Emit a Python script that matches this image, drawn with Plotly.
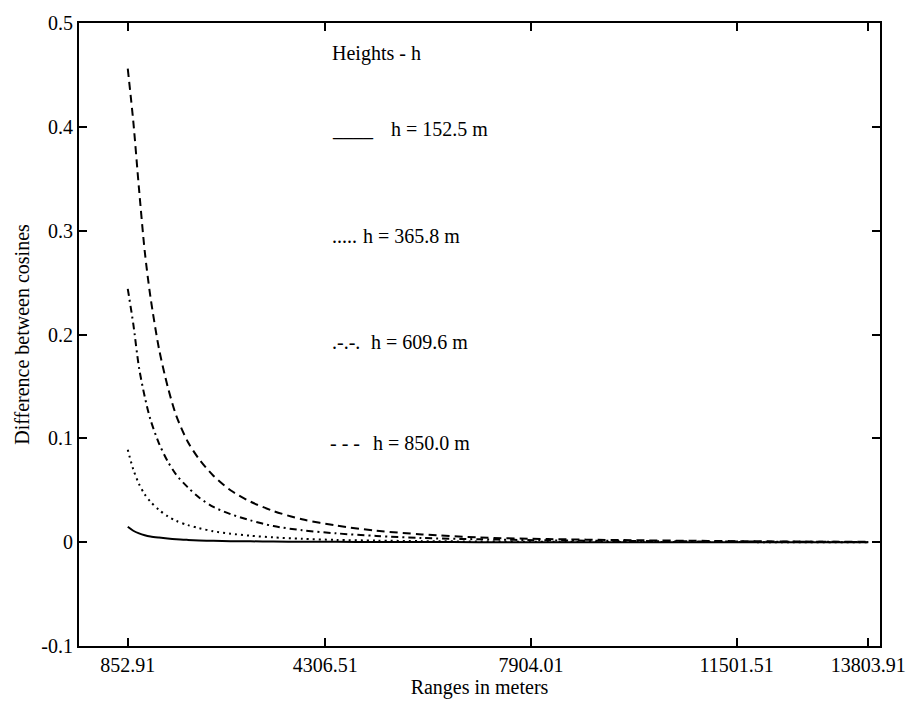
import plotly.graph_objects as go

# Range samples (m) and difference between cosines for each height
ranges = [852.91, 950, 1050, 1150, 1250, 1400, 1550, 1700, 1900, 2100, 2350, 2650,
          3000, 3400, 3900, 4500, 5200, 6000, 7000, 8200, 9500, 11000, 12500, 13803.91]

diff_h152 = [0.0148, 0.0110, 0.0085, 0.0067, 0.0055, 0.0044, 0.0035, 0.0028, 0.0022,
             0.0017, 0.0013, 0.0010, 0.0008, 0.0006, 0.0004, 0.0003, 0.0002, 0.0001,
             0.0, 0.0, 0.0, 0.0, 0.0, 0.0]
diff_h366 = [0.089, 0.070, 0.056, 0.046, 0.039, 0.031, 0.025, 0.0205, 0.0165,
             0.0135, 0.0105, 0.0082, 0.0062, 0.0046, 0.0032, 0.0022, 0.0015, 0.0010,
             0.0006, 0.0004, 0.0002, 0.0001, 0.0, 0.0]
diff_h610 = [0.244, 0.210, 0.168, 0.140, 0.118, 0.095, 0.078, 0.065, 0.053,
             0.043, 0.034, 0.027, 0.021, 0.0155, 0.0115, 0.0085, 0.0060, 0.0040,
             0.0028, 0.0018, 0.0012, 0.0007, 0.0004, 0.0002]
diff_h850 = [0.456, 0.405, 0.340, 0.280, 0.236, 0.186, 0.150, 0.122, 0.097,
             0.080, 0.064, 0.050, 0.039, 0.030, 0.022, 0.016, 0.011, 0.0075,
             0.0045, 0.0030, 0.0020, 0.0012, 0.0006, 0.0003]

x_ticks = [852.91, 4306.51, 7904.01, 11501.51, 13803.91]
x_tick_text = ["852.91", "4306.51", "7904.01", "11501.51", "13803.91"]
y_ticks = [-0.1, 0, 0.1, 0.2, 0.3, 0.4, 0.5]
y_tick_text = ["-0.1", "0", "0.1", "0.2", "0.3", "0.4", "0.5"]

series = [
    (diff_h152, "solid"),
    (diff_h366, "2px,4px"),
    (diff_h610, "7px,4px,2px,4px"),
    (diff_h850, "8px,5px"),
]

FONT = "Liberation Serif, Times New Roman, serif"
FS = 20

fig = go.Figure()
for ys, dash in series:
    fig.add_trace(go.Scatter(x=ranges, y=ys, mode="lines",
                             line=dict(color="black", width=2, dash=dash,
                                       shape="spline", smoothing=0.8),
                             showlegend=False))

# Key drawn as text inside the axes: (sample, sample x, label, label x, y)
legend_title = ("Heights - h", 4396, 0.471)
legend_items = [
    ("____", 4396, "h = 152.5 m", 5425, 0.398),
    (".....", 4396, "h = 365.8 m", 4936, 0.295),
    (".-.-.", 4396, "h = 609.6 m", 5076, 0.193),
    ("- - -", 4360, "h = 850.0 m", 5111, 0.0956),
]

fig.add_annotation(x=legend_title[1], y=legend_title[2], xref="x", yref="y",
                   text=legend_title[0], showarrow=False, xanchor="left", yanchor="middle",
                   font=dict(family=FONT, size=FS, color="black"))
for sample, sx, label, lx, yv in legend_items:
    fig.add_annotation(x=sx, y=yv, xref="x", yref="y", text=sample, showarrow=False,
                       xanchor="left", yanchor="middle",
                       font=dict(family=FONT, size=FS, color="black"))
    fig.add_annotation(x=lx, y=yv, xref="x", yref="y", text=label, showarrow=False,
                       xanchor="left", yanchor="middle",
                       font=dict(family=FONT, size=FS, color="black"))

axis_common = dict(showline=True, linecolor="black", linewidth=2, mirror="allticks",
                   ticks="inside", ticklen=8, tickcolor="black", tickwidth=1.5,
                   showgrid=False, zeroline=False,
                   tickfont=dict(family=FONT, size=FS, color="black"))

fig.update_xaxes(range=[0, 14010], tickvals=x_ticks, ticktext=x_tick_text,
                 title=dict(text="Ranges in meters",
                            font=dict(family=FONT, size=FS, color="black"), standoff=0),
                 **axis_common)
fig.update_yaxes(range=[-0.1, 0.5], tickvals=y_ticks, ticktext=y_tick_text,
                 title=dict(text="Difference between cosines",
                            font=dict(family=FONT, size=FS, color="black"), standoff=6),
                 **axis_common)

fig.update_layout(width=918, height=706, margin=dict(l=79, r=32, t=17, b=60),
                  paper_bgcolor="white", plot_bgcolor="white",
                  font=dict(family=FONT, color="black"))

fig.write_html("out.html")
